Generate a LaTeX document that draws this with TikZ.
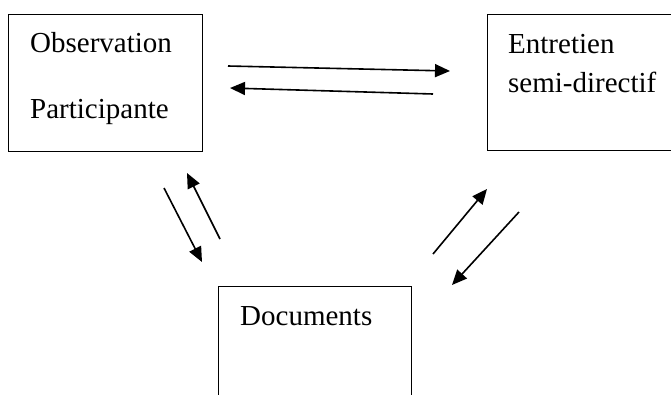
\documentclass[tikz,border=0pt]{standalone}
\usepackage{fontspec}
\setmainfont{Liberation Serif}
\usetikzlibrary{arrows.meta}
\begin{document}
\begin{tikzpicture}[x=1pt,y=-1pt,
    box/.style={draw, line width=1.3pt, rectangle, inner sep=0pt, anchor=north west},
    word/.style={anchor=base west, inner sep=0pt, font=\fontsize{29}{35}\selectfont},
    link/.style={line width=1.6pt, -{Triangle[length=15pt,width=13pt]}}]
      \useasboundingbox (0,0) rectangle (671,394);
      \clip (0,0) rectangle (671,394);
      % boxes
      \node[box, minimum width=194pt, minimum height=137pt] (obsbox) at (8,14) {};
      \node[box, minimum width=194pt, minimum height=136pt] (entbox) at (487,14) {};
      \node[box, minimum width=193pt, minimum height=137pt] (docbox) at (218,286) {};
      % texts
      \node[word] (obs1) at (30,52) {Observation};
      \node[word] (obs2) at (30,118) {Participante};
      \node[word] (ent1) at (508,53) {Entretien};
      \node[word] (ent2) at (508,92) {semi-directif};
      \node[word] (doc) at (240,325) {Documents};
      % arrow ends
      \coordinate (o2e) at (228,66);  \coordinate (o2e') at (450,71);
      \coordinate (e2o) at (433,94);  \coordinate (e2o') at (230,88);
      \coordinate (o2d) at (164,188); \coordinate (o2d') at (202,262);
      \coordinate (d2o) at (220,239); \coordinate (d2o') at (187,173);
      \coordinate (d2e) at (433,254); \coordinate (d2e') at (487,189);
      \coordinate (e2d) at (519,212); \coordinate (e2d') at (452,285);
      \draw[link] (o2e) -- (o2e');
      \draw[link] (e2o) -- (e2o');
      \draw[link] (o2d) -- (o2d');
      \draw[link] (d2o) -- (d2o');
      \draw[link] (d2e) -- (d2e');
      \draw[link] (e2d) -- (e2d');
\end{tikzpicture}
\end{document}
